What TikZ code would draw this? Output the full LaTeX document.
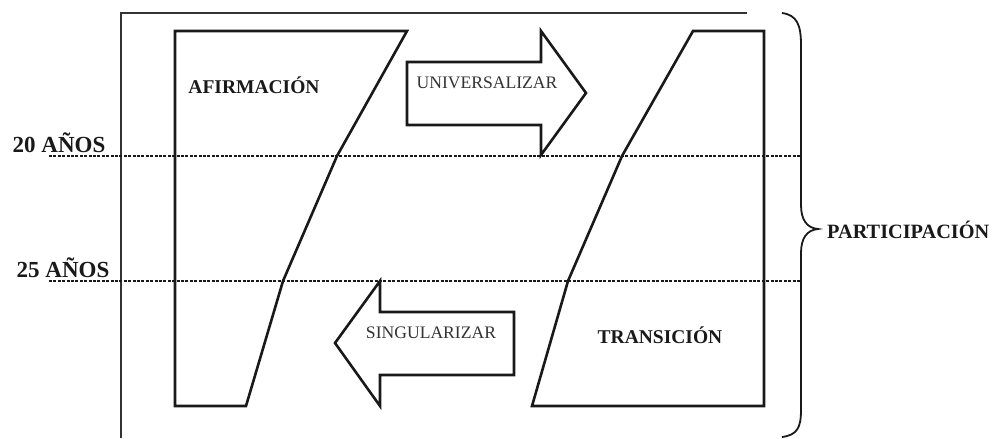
\documentclass[tikz,border=0pt]{standalone}
\usepackage{fontspec}
\setmainfont{Liberation Serif}
\begin{document}
\begin{tikzpicture}[x=1pt,y=-1pt,
  frame/.style={line width=1.8pt,draw=black!80},
  shapeline/.style={line width=2.6pt,draw=black!90,line join=miter},
  arrowbox/.style={line width=2.6pt,draw=black!90,line join=miter},
  ageline/.style={line width=2.8pt,dash pattern=on 3pt off 1.4pt,draw=black!90},
  bracel/.style={line width=1.8pt,draw=black!90},
  boldlab/.style={font=\fontsize{19.5}{22}\selectfont\bfseries,text=black!90,inner sep=0pt},
  agelab/.style={font=\fontsize{23}{26}\selectfont\bfseries,text=black!90,inner sep=0pt},
  arrlab/.style={font=\fontsize{17.6}{20}\selectfont,text=black!80,inner sep=0pt}]
\useasboundingbox (0,0) rectangle (996,439);
% outer open frame
\coordinate (fTR) at (747,13);
\coordinate (fTL) at (121,13);
\coordinate (fBL) at (121,438);
\draw[frame] (fTR) -- (fTL) -- (fBL);
% age lines
\coordinate (a20L) at (49,156); \coordinate (a20R) at (800,156);
\coordinate (a25L) at (49,281); \coordinate (a25R) at (800,281);
\draw[ageline] (a20L) -- (a20R);
\draw[ageline] (a25L) -- (a25R);
\node[agelab] (l20) at (59,143) {20 AÑOS};
\node[agelab] (l25) at (63,268) {25 AÑOS};
% left shape
\coordinate (A1) at (175,31); \coordinate (A2) at (407,31);
\coordinate (A3) at (337,156); \coordinate (A4) at (283,281);
\coordinate (A5) at (246,406); \coordinate (A6) at (175,406);
\draw[shapeline] (A1) -- (A2) -- (A3) -- (A4) -- (A5) -- (A6) -- cycle;
\node[boldlab] (afir) at (254,85) {AFIRMACIÓN};
% right shape
\coordinate (T1) at (693,31); \coordinate (T2) at (764,31);
\coordinate (T3) at (764,406); \coordinate (T4) at (532,406);
\coordinate (T5) at (568,281); \coordinate (T6) at (622,156);
\draw[shapeline] (T1) -- (T2) -- (T3) -- (T4) -- (T5) -- (T6) -- cycle;
\node[boldlab] (trans) at (660,335) {TRANSICIÓN};
% universalizar arrow
\coordinate (U1) at (407,62); \coordinate (U2) at (541,62);
\coordinate (U3) at (541,31); \coordinate (U4) at (586,93);
\coordinate (U5) at (541,155); \coordinate (U6) at (541,125);
\coordinate (U7) at (407,125);
\draw[arrowbox] (U1) -- (U2) -- (U3) -- (U4) -- (U5) -- (U6) -- (U7) -- cycle;
\node[arrlab] (univ) at (487,83) {UNIVERSALIZAR};
% singularizar arrow
\coordinate (S1) at (514,312); \coordinate (S2) at (380,312);
\coordinate (S3) at (380,281); \coordinate (S4) at (335,343);
\coordinate (S5) at (380,406); \coordinate (S6) at (380,375);
\coordinate (S7) at (514,375);
\draw[arrowbox] (S1) -- (S2) -- (S3) -- (S4) -- (S5) -- (S6) -- (S7) -- cycle;
\node[arrlab] (sing) at (431,333) {SINGULARIZAR};
% brace
\coordinate (B0) at (782,13);
\coordinate (B1) at (801,45);
\coordinate (B2) at (801,205);
\coordinate (Btip) at (818,229);
\coordinate (B3) at (801,253);
\coordinate (B4) at (801,410);
\coordinate (B5) at (782,437);
\draw[bracel] (B0) .. controls (797,15) and (801,25) .. (B1) -- (B2)
  .. controls (801,220) and (807,228) .. (Btip)
  .. controls (807,230) and (801,238) .. (B3) -- (B4)
  .. controls (801,428) and (797,435) .. (B5);
\node[boldlab,font=\fontsize{20.3}{23}\selectfont\bfseries,anchor=west] (part) at (827,230) {PARTICIPACIÓN};
\end{tikzpicture}
\end{document}
